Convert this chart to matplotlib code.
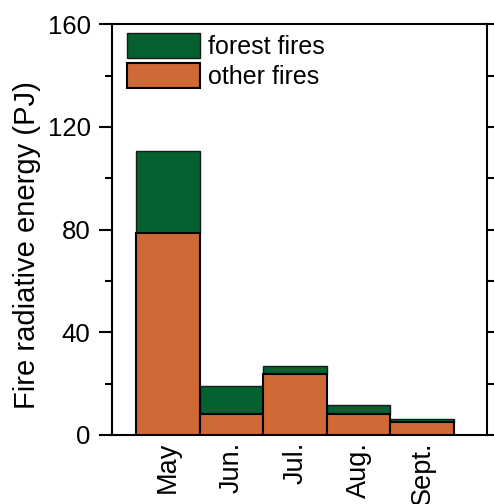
import numpy as np
import matplotlib
matplotlib.use("Agg")
import matplotlib.pyplot as plt
from matplotlib.ticker import MultipleLocator

plt.rcParams["font.family"] = ["Liberation Sans", "DejaVu Sans"]

months = ["May", "Jun.", "Jul.", "Aug.", "Sept."]
other_fires = [78.7, 8.0, 23.6, 8.1, 4.9]
forest_fires = [32.1, 11.0, 3.4, 3.4, 1.3]

GREEN = "#05612f"
ORANGE = "#cf6936"

fig = plt.figure(figsize=(4.94, 5.04), dpi=100)
ax = fig.add_axes([0.227, 0.137, 0.759, 0.815])

x = np.arange(len(months))
ax.bar(x, other_fires, width=1.0, color=ORANGE, edgecolor="black",
       linewidth=1.5, label="other fires", zorder=3)
ax.bar(x, forest_fires, width=1.0, bottom=other_fires, color=GREEN,
       edgecolor="#1a1a1a", linewidth=1.0, label="forest fires", zorder=2)

ax.set_xlim(-0.88, 5.02)
ax.set_ylim(0, 160)
ax.yaxis.set_major_locator(MultipleLocator(40))
ax.yaxis.set_minor_locator(MultipleLocator(20))
ax.set_xticks(x)
ax.set_xticklabels(months, rotation=90, fontsize=19.5)
ax.tick_params(axis="x", length=0, pad=5)
ax.tick_params(axis="y", which="both", direction="out", right=True,
               width=1.5, labelsize=18.5)
ax.tick_params(axis="y", which="major", length=9.5, pad=6)
ax.tick_params(axis="y", which="minor", length=5)
ax.set_ylabel("Fire radiative energy (PJ)", fontsize=21)
ax.yaxis.set_label_coords(-0.19, 0.462)

for sp in ax.spines.values():
    sp.set_linewidth(1.5)

handles, labels = ax.get_legend_handles_labels()
ax.legend(handles[::-1], labels[::-1], loc="upper left",
          bbox_to_anchor=(0.04, 0.978), borderaxespad=0, borderpad=0,
          frameon=False, fontsize=18, handlelength=2.9, handleheight=1.15,
          labelspacing=0.16, handletextpad=0.32)

fig.savefig("out.png", dpi=100)
